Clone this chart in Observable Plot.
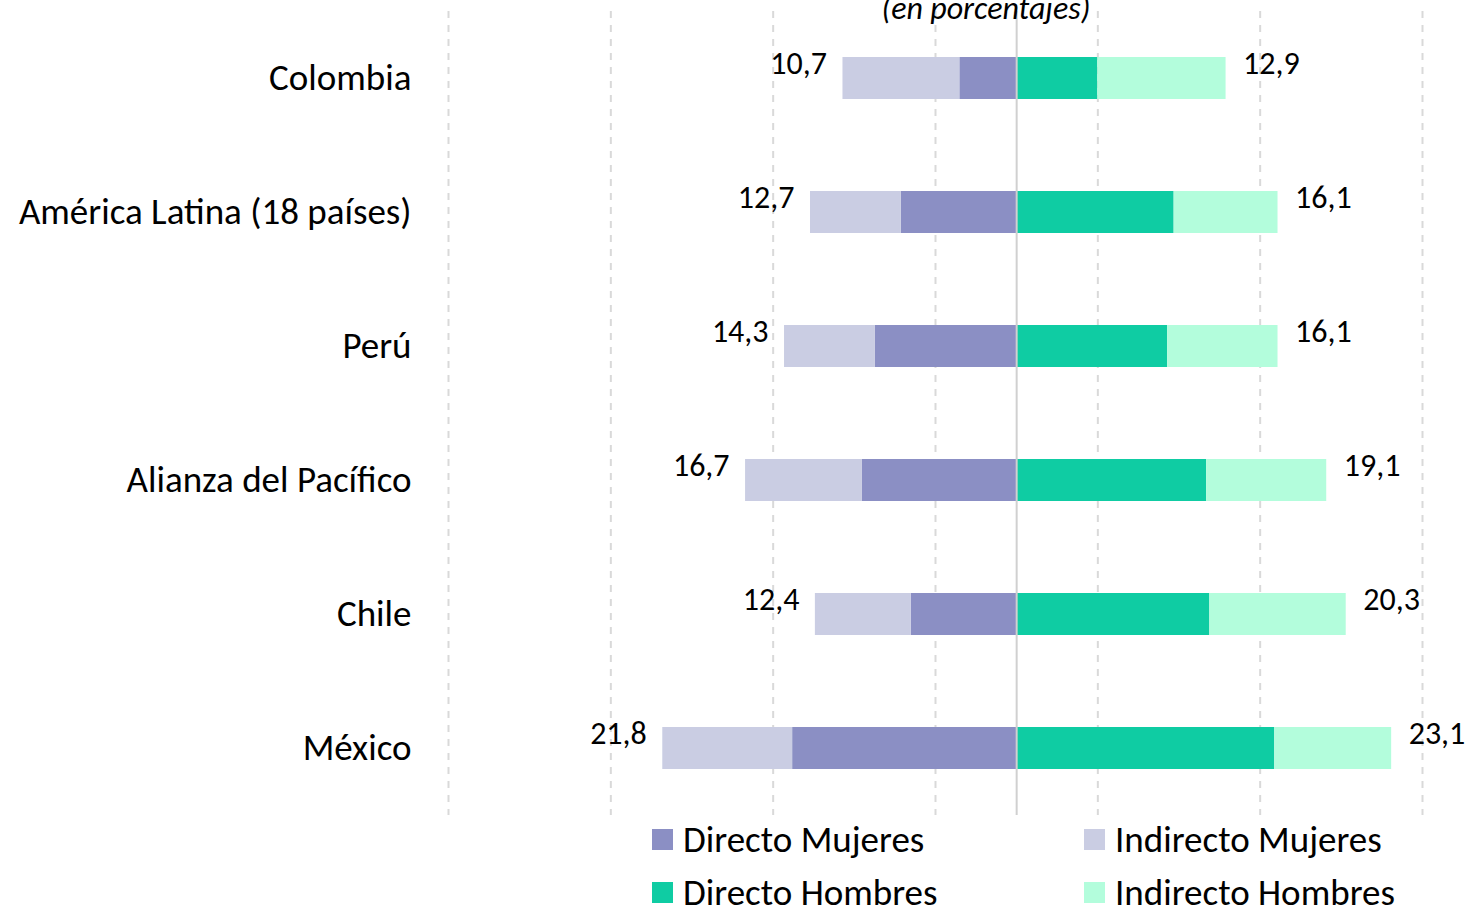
<!DOCTYPE html>
<html>
<head>
<meta charset="utf-8">
<script src="https://cdn.jsdelivr.net/npm/d3@7"></script>
<script src="https://cdn.jsdelivr.net/npm/@observablehq/plot@0.6"></script>
<style>
  html, body { margin: 0; padding: 0; background: #fff; overflow: hidden; }
  body { width: 1468px; height: 906px; position: relative; font-family: Carlito, Calibri, Lato, sans-serif; }
  #title { position: absolute; top: -11px; left: 0; width: 1972px; text-align: center; font-style: italic; font-size: 32px; color: #000; z-index: 2; line-height: 40px; }
  #chart { position: absolute; top: 0; left: 0; }
  #legend { position: absolute; left: 652px; top: 813px; display: grid; grid-template-columns: 432px 400px; grid-auto-rows: 53px; }
  .item { display: flex; align-items: center; font-size: 37px; color: #000; }
  .sw { width: 21px; height: 21px; margin-right: 10px; flex: none; }
</style>
</head>
<body>
<div id="title">(en porcentajes)</div>
<div id="chart"></div>
<div id="legend"></div>
<script>
const countries = ["Colombia", "América Latina (18 países)", "Perú", "Alianza del Pacífico", "Chile", "México"];
const directoMujeres   = [3.5, 7.1, 8.7, 9.5, 6.5, 13.8];
const indirectoMujeres = [7.2, 5.6, 5.6, 7.2, 5.9, 8.0];
const directoHombres   = [5.0, 9.7, 9.3, 11.7, 11.9, 15.9];
const indirectoHombres = [7.9, 6.4, 6.8, 7.4, 8.4, 7.2];
const totalMujeres = [10.7, 12.7, 14.3, 16.7, 12.4, 21.8];
const totalHombres = [12.9, 16.1, 16.1, 19.1, 20.3, 23.1];
const seriesNames = ["Directo Mujeres", "Indirecto Mujeres", "Directo Hombres", "Indirecto Hombres"];
const seriesColors = ["#8b8fc4", "#cacde3", "#0fcca3", "#b3fddc"];
const gridTicks = [-35, -25, -15, -5, 5, 15, 25];

const rows = [];
countries.forEach((c, i) => {
  rows.push({country: c, series: "Directo Mujeres", value: -directoMujeres[i]});
  rows.push({country: c, series: "Indirecto Mujeres", value: -indirectoMujeres[i]});
  rows.push({country: c, series: "Directo Hombres", value: directoHombres[i]});
  rows.push({country: c, series: "Indirecto Hombres", value: indirectoHombres[i]});
});
const totals = countries.map((c, i) => ({country: c, m: totalMujeres[i], h: totalHombres[i]}));
const fmt = v => v.toFixed(1).replace(".", ",");

const chart = Plot.plot({
  width: 1468,
  height: 820,
  marginLeft: 448,
  marginRight: 46,
  marginTop: 11,
  marginBottom: 5,
  style: {fontFamily: "Carlito, Calibri, Lato, sans-serif", background: "transparent"},
  x: {domain: [-35, 25], axis: null},
  y: {domain: countries, paddingInner: 0.687, paddingOuter: 0.3435, label: null, tickSize: 0, tickPadding: 37},
  color: {domain: seriesNames, range: seriesColors},
  marks: [
    Plot.ruleX(gridTicks, {stroke: "#d9d9d9", strokeWidth: 2, strokeDasharray: "7,7"}),
    Plot.barX(rows, Plot.stackX({x: "value", y: "country", fill: "series", order: seriesNames})),
    Plot.ruleX([0], {stroke: "#d0d0d0", strokeWidth: 2}),
    Plot.axisY({tickSize: 0, tickPadding: 37, fontSize: 37, label: null, fill: "#000"}),
    Plot.text(totals, {x: d => -d.m, y: "country", text: d => fmt(d.m), textAnchor: "end", dx: -16, dy: -15, fontSize: 32, fill: "#000"}),
    Plot.text(totals, {x: "h", y: "country", text: d => fmt(d.h), textAnchor: "start", dx: 17, dy: -15, fontSize: 32, fill: "#000"})
  ]
});
document.getElementById("chart").appendChild(chart);

const legendOrder = ["Directo Mujeres", "Indirecto Mujeres", "Directo Hombres", "Indirecto Hombres"];
const legend = document.getElementById("legend");
legendOrder.forEach(name => {
  const it = document.createElement("div");
  it.className = "item";
  const sw = document.createElement("span");
  sw.className = "sw";
  sw.style.background = seriesColors[seriesNames.indexOf(name)];
  const tx = document.createElement("span");
  tx.textContent = name;
  it.appendChild(sw); it.appendChild(tx);
  legend.appendChild(it);
});
</script>
</body>
</html>
